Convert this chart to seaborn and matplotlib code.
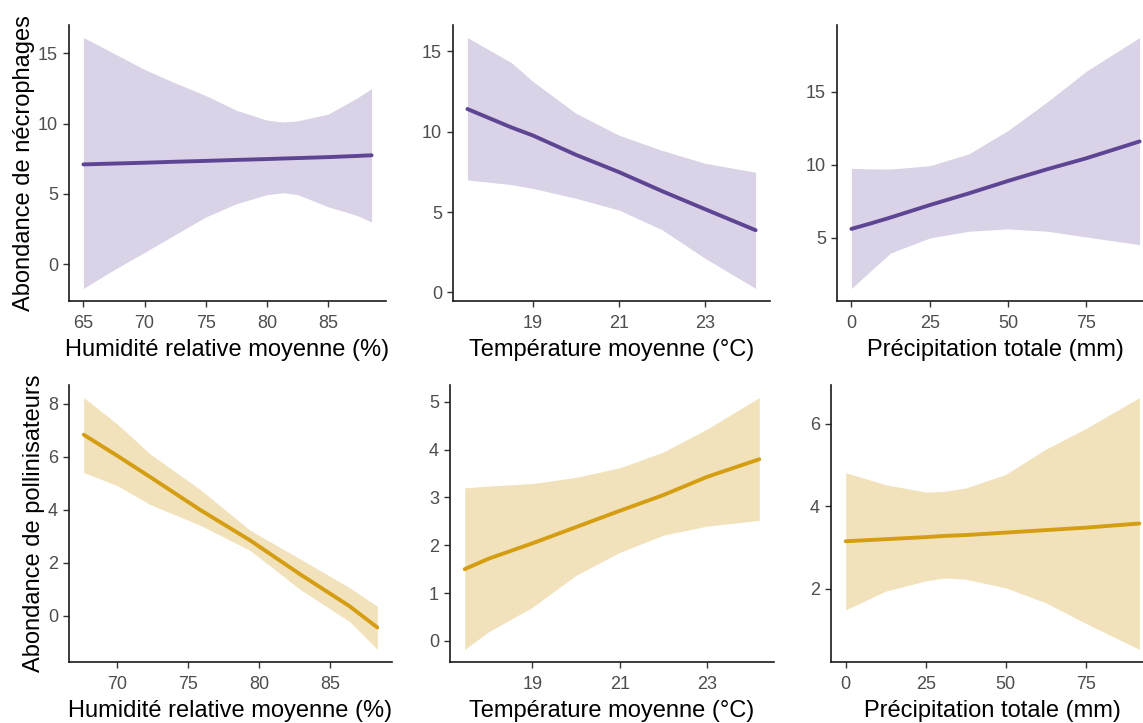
import matplotlib
matplotlib.use("Agg")
import matplotlib.pyplot as plt
import seaborn as sns
import numpy as np
import pandas as pd

# ---------------- data ----------------
# Nécrophages ~ humidité
hum_n_x   = [65.0, 67.5, 70.0, 72.5, 75.0, 77.5, 80.0, 81.3, 82.5, 85.0, 87.3, 88.54]
hum_n_fit = [7.10, 7.16, 7.22, 7.29, 7.35, 7.42, 7.48, 7.52, 7.55, 7.62, 7.70, 7.75]
hum_n_hi  = [16.13, 15.0, 13.85, 12.9, 12.0, 10.95, 10.25, 10.12, 10.2, 10.68, 11.8, 12.5]
hum_n_lo  = [-1.73, -0.40, 0.84, 2.1, 3.36, 4.30, 4.95, 5.08, 4.95, 4.08, 3.48, 3.0]

# Nécrophages ~ température
tmp_n_x   = [17.47, 18.5, 19.0, 20.0, 21.0, 22.0, 23.0, 24.18]
tmp_n_fit = [11.40, 10.25, 9.75, 8.55, 7.48, 6.30, 5.18, 3.87]
tmp_n_hi  = [15.84, 14.27, 13.10, 11.13, 9.77, 8.83, 8.03, 7.47]
tmp_n_lo  = [6.99, 6.70, 6.46, 5.85, 5.12, 3.90, 2.13, 0.25]

# Nécrophages ~ précipitation
pre_n_x   = [0.0, 6.25, 12.5, 25.0, 37.5, 50.0, 62.5, 75.0, 92.0]
pre_n_fit = [5.62, 6.00, 6.40, 7.25, 8.05, 8.90, 9.70, 10.45, 11.60]
pre_n_hi  = [9.76, 9.72, 9.71, 9.94, 10.75, 12.35, 14.30, 16.40, 18.70]
pre_n_lo  = [1.55, 2.77, 3.97, 5.00, 5.46, 5.62, 5.46, 5.07, 4.54]

# Pollinisateurs ~ humidité
hum_p_x   = [67.65, 70.0, 72.34, 75.86, 79.38, 82.9, 86.4, 88.35]
hum_p_fit = [6.84, 6.05, 5.24, 4.00, 2.85, 1.57, 0.36, -0.44]
hum_p_hi  = [8.24, 7.25, 6.11, 4.77, 3.23, 2.15, 1.06, 0.36]
hum_p_lo  = [5.41, 4.92, 4.20, 3.42, 2.47, 1.00, -0.22, -1.27]

# Pollinisateurs ~ température
tmp_p_x   = [17.45, 18.0, 19.0, 20.0, 21.0, 22.0, 23.0, 24.2]
tmp_p_fit = [1.50, 1.72, 2.04, 2.38, 2.72, 3.05, 3.43, 3.80]
tmp_p_hi  = [3.20, 3.24, 3.29, 3.42, 3.62, 3.95, 4.43, 5.09]
tmp_p_lo  = [-0.18, 0.19, 0.70, 1.37, 1.85, 2.21, 2.40, 2.52]

# Pollinisateurs ~ précipitation
pre_p_x   = [0.0, 12.5, 25.0, 31.0, 37.5, 50.0, 62.5, 75.0, 91.7]
pre_p_fit = [3.15, 3.20, 3.25, 3.28, 3.30, 3.36, 3.42, 3.48, 3.58]
pre_p_hi  = [4.81, 4.52, 4.34, 4.36, 4.44, 4.77, 5.38, 5.88, 6.63]
pre_p_lo  = [1.49, 1.94, 2.19, 2.26, 2.23, 2.02, 1.66, 1.16, 0.53]

x_titles = ["Humidité relative moyenne (%)", "Température moyenne (°C)", "Précipitation totale (mm)"]
y_titles = ["Abondance de nécrophages", "Abondance de pollinisateurs"]

hum_n_ticks_x = [65, 70, 75, 80, 85]
tmp_ticks_x = [19, 21, 23]
pre_ticks_x = [0, 25, 50, 75]
hum_p_ticks_x = [70, 75, 80, 85]
n_ticks_y_a = [0, 5, 10, 15]
n_ticks_y_c = [5, 10, 15]
p_ticks_y_a = [0, 2, 4, 6, 8]
p_ticks_y_b = [0, 1, 2, 3, 4, 5]
p_ticks_y_c = [2, 4, 6]

# ---------------- style ----------------
sns.set_theme(style="ticks")
plt.rcParams['font.family'] = ['Liberation Sans', 'DejaVu Sans']

PURPLE = "#5D4593"
PURPLE_FILL = "#DAD2E6"
GOLD = "#D59E12"
GOLD_FILL = "#F2E2BB"

W, H = 1143, 723
fig = plt.figure(figsize=(W / 100, H / 100), dpi=100)

def add_ax(l, r, t, b):
    return fig.add_axes([l / W, 1 - b / H, (r - l) / W, (b - t) / H])

panels = [
    ((69, 386, 25, 301), hum_n_x, hum_n_fit, hum_n_lo, hum_n_hi, PURPLE, PURPLE_FILL, hum_n_ticks_x, n_ticks_y_a, x_titles[0], y_titles[0]),
    ((453, 770, 25, 301), tmp_n_x, tmp_n_fit, tmp_n_lo, tmp_n_hi, PURPLE, PURPLE_FILL, tmp_ticks_x, n_ticks_y_a, x_titles[1], None),
    ((837, 1154, 25, 301), pre_n_x, pre_n_fit, pre_n_lo, pre_n_hi, PURPLE, PURPLE_FILL, pre_ticks_x, n_ticks_y_c, x_titles[2], None),
    ((69, 392, 385, 662), hum_p_x, hum_p_fit, hum_p_lo, hum_p_hi, GOLD, GOLD_FILL, hum_p_ticks_x, p_ticks_y_a, x_titles[0], y_titles[1]),
    ((450, 774, 385, 662), tmp_p_x, tmp_p_fit, tmp_p_lo, tmp_p_hi, GOLD, GOLD_FILL, tmp_ticks_x, p_ticks_y_b, x_titles[1], None),
    ((831, 1154, 385, 662), pre_p_x, pre_p_fit, pre_p_lo, pre_p_hi, GOLD, GOLD_FILL, pre_ticks_x, p_ticks_y_c, x_titles[2], None),
]

for box, xs, fit, lo, hi, col, fcol, xt, yt, xtitle, ytitle in panels:
    ax = add_ax(*box)
    df = pd.DataFrame({"x": xs, "fit": fit, "lo": lo, "hi": hi})
    ax.fill_between(df["x"], df["lo"], df["hi"], color=fcol, linewidth=0, zorder=1)
    sns.lineplot(data=df, x="x", y="fit", ax=ax, color=col, linewidth=2.8, zorder=2)
    # ggplot-like 5% expansion
    x0, x1 = min(xs), max(xs)
    y0, y1 = min(lo), max(hi)
    dx, dy = (x1 - x0) * 0.05, (y1 - y0) * 0.05
    ax.set_xlim(x0 - dx, x1 + dx)
    ax.set_ylim(y0 - dy, y1 + dy)
    ax.set_xticks(xt)
    ax.set_yticks(yt)
    ax.set_xticklabels([str(v) for v in xt])
    ax.set_yticklabels([str(v) for v in yt])
    sns.despine(ax=ax)
    for s in ["left", "bottom"]:
        ax.spines[s].set_color("#1A1A1A")
        ax.spines[s].set_linewidth(1.2)
    ax.tick_params(axis="both", direction="out", length=4.3, width=1.0, color="#333333",
                   labelsize=13, labelcolor="#4D4D4D")
    ax.tick_params(axis="x", pad=6)
    ax.tick_params(axis="y", pad=3.6)
    ax.set_xlabel(xtitle, fontsize=17, color="black", labelpad=4.5)
    if ytitle:
        ax.set_ylabel(ytitle, fontsize=17, color="black", labelpad=2)
    else:
        ax.set_ylabel("")
    ax.set_facecolor("white")
    ax.grid(False)

fig.savefig("out.png", dpi=100, facecolor="white")
